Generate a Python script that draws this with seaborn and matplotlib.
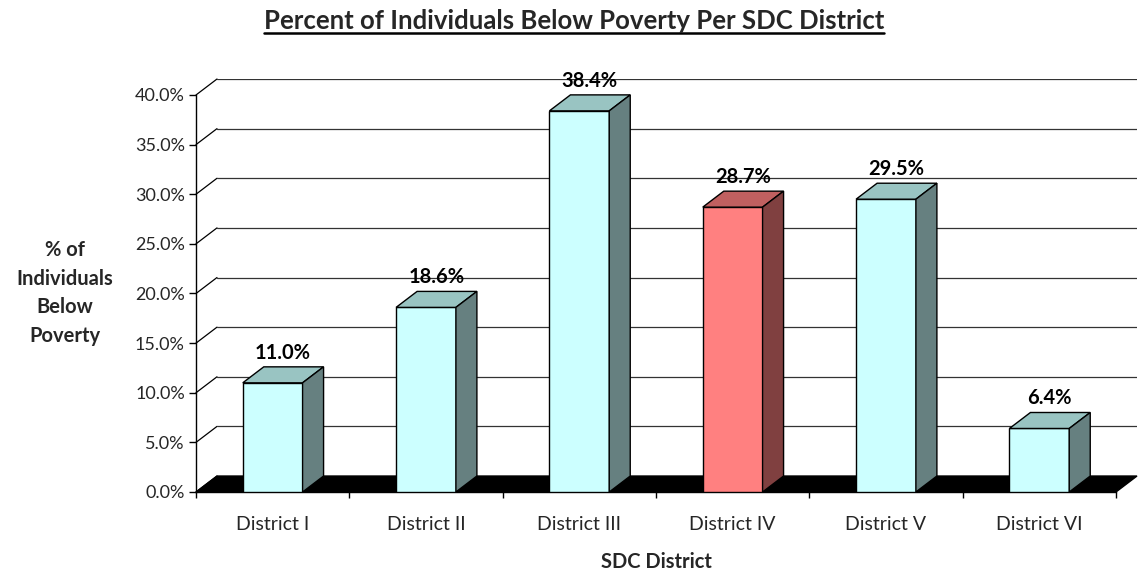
import matplotlib
matplotlib.use("Agg")
import matplotlib.pyplot as plt
from matplotlib.patches import Polygon
from matplotlib.lines import Line2D
import seaborn as sns

# ---------------------------------------------------------
# Data
# ---------------------------------------------------------
districts = ["District I", "District II", "District III", "District IV", "District V", "District VI"]
poverty_pct = [11.0, 18.6, 38.4, 28.7, 29.5, 6.4]
highlight = "District IV"
y_ticks = [0, 5, 10, 15, 20, 25, 30, 35, 40]

# colours for front / top / side faces
cyan_faces = ("#CCFFFF", "#99C4C2", "#668080")
red_faces = ("#FF8080", "#C06060", "#804040")

sns.set_theme(style="white")
plt.rcParams["font.family"] = ["Lato", "DejaVu Sans"]

W, H = 1146, 572
fig = plt.figure(figsize=(W / 100, H / 100), dpi=100)

# pseudo-3D depth, in data units
dx = 0.137
dy = 1.61
bar_w = 0.39

# axes box in pixels: left 196, right 1137, bottom 492, top 79
ax = fig.add_axes([196 / W, (H - 492) / H, (1137 - 196) / W, (492 - 79) / H])

palette = {d: (red_faces if d == highlight else cyan_faces)[0] for d in districts}
sns.barplot(x=districts, y=poverty_pct, hue=districts, palette=palette, legend=False,
            width=bar_w, edgecolor="black", linewidth=1.0, saturation=1, ax=ax, zorder=4)

ax.set_xlim(-0.5, 5.5 + dx)
ax.set_ylim(0, 40 + dy)

# back wall gridlines + connectors to the front axis
for t in y_ticks:
    ax.plot([-0.5, -0.5 + dx], [t, t + dy], color="black", lw=0.9, zorder=1, clip_on=False)
    if t > 0:
        ax.plot([-0.5 + dx, 5.5 + dx], [t + dy, t + dy], color="#333333", lw=0.9, zorder=1)

# black floor
floor = Polygon([(-0.5, 0), (5.5, 0), (5.5 + dx, dy), (-0.5 + dx, dy)],
                closed=True, facecolor="black", edgecolor="black", zorder=2, clip_on=False)
ax.add_patch(floor)

# top and side faces of each bar, plus value labels
for i, (d, v) in enumerate(zip(districts, poverty_pct)):
    front, top, side = red_faces if d == highlight else cyan_faces
    x0, x1 = i - bar_w / 2, i + bar_w / 2
    ax.add_patch(Polygon([(x0, v), (x1, v), (x1 + dx, v + dy), (x0 + dx, v + dy)],
                         closed=True, facecolor=top, edgecolor="black", lw=1.0, zorder=5))
    ax.add_patch(Polygon([(x1, 0), (x1 + dx, dy), (x1 + dx, v + dy), (x1, v)],
                         closed=True, facecolor=side, edgecolor="black", lw=1.0, zorder=5))
    ax.annotate(f"{v:.1f}%", (i + dx / 2, v + dy), xytext=(0, 3), textcoords="offset points",
                ha="center", va="bottom", fontsize=14.5, fontweight="bold", color="black")

# axes styling
for s in ["top", "right"]:
    ax.spines[s].set_visible(False)
ax.spines["left"].set_bounds(0, 40)
ax.spines["bottom"].set_bounds(-0.5, 5.5)
for s in ["left", "bottom"]:
    ax.spines[s].set_color("black")
    ax.spines[s].set_linewidth(1.0)

ax.set_yticks(y_ticks)
ax.set_yticklabels([f"{t:.1f}%" for t in y_ticks], fontsize=13)
ax.tick_params(axis="y", which="major", left=True, length=5, width=1, color="black", pad=3)

ax.set_xticks(range(len(districts)))
ax.set_xticklabels(districts, fontsize=14)
ax.set_xticks([i - 0.5 for i in range(len(districts) + 1)], minor=True)
ax.tick_params(axis="x", which="major", bottom=False, length=0, pad=17)
ax.tick_params(axis="x", which="minor", bottom=True, length=4, width=1, color="black")

ax.set_xlabel("")
ax.set_ylabel("")
fig.text(656 / W, 1 - 562 / H, "SDC District", ha="center", va="center",
         fontsize=14.5, fontweight="bold")
fig.text(65 / W, 1 - 293 / H, "% of\nIndividuals\nBelow\nPoverty", ha="center", va="center",
         fontsize=14.5, fontweight="bold", linespacing=1.55)

# underlined title
title = fig.text(574 / W, 1 - 29 / H, "Percent of Individuals Below Poverty Per SDC District",
                 ha="center", va="baseline", fontsize=18.5, fontweight="bold")
fig.canvas.draw()
bb = title.get_window_extent(fig.canvas.get_renderer())
uy = 1 - 33 / H
fig.add_artist(Line2D([bb.x0 / W, bb.x1 / W], [uy, uy], color="black", lw=1.8))

fig.savefig("out.png", dpi=100)
